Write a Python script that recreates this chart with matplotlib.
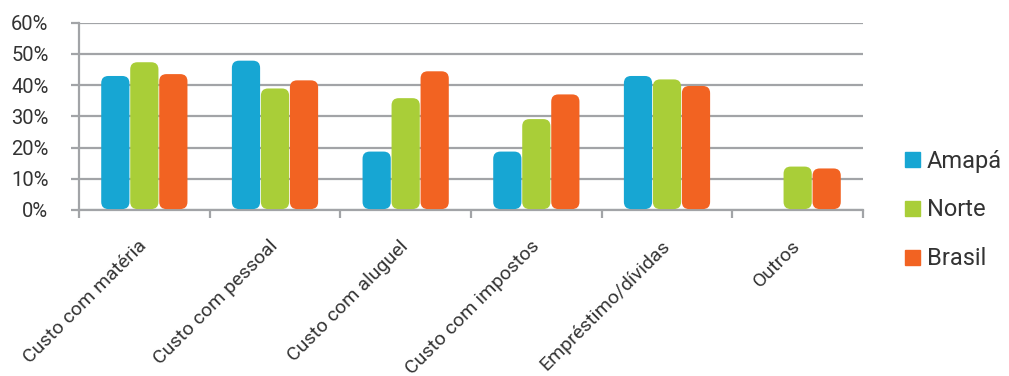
import numpy as np
import matplotlib
matplotlib.use('Agg')
from matplotlib import pyplot as plt
from matplotlib.patches import FancyBboxPatch, Patch
from matplotlib.transforms import ScaledTranslation

# data (percent)
categories = ['Custo com matéria', 'Custo com pessoal', 'Custo com aluguel',
              'Custo com impostos', 'Empréstimo/dívidas', 'Outros']
series_names = ['Amapá', 'Norte', 'Brasil']
amapa = [42.9, 47.8, 18.7, 18.7, 42.9, 0]
norte = [47.3, 38.9, 35.8, 29.1, 41.8, 13.9]
brasil = [43.5, 41.5, 44.4, 37.0, 39.7, 13.3]
colors = ['#17A6D3', '#A9CE38', '#F26322']

plt.rcParams['font.family'] = ['Roboto', 'DejaVu Sans']
text_color = '#333333'
grid_color = '#A2A4A7'

fig = plt.figure(figsize=(10.09, 3.76), dpi=100)
ax = fig.add_axes([0.0783, 0.4415, 0.777, 0.4985])

x = np.arange(len(categories))
width = 0.222
ax.set_xlim(-0.5, len(categories) - 0.5)
ax.set_ylim(0, 60)

# rounded bars: draw normal bars, then swap them for rounded boxes
radius_x = 0.055
aspect = 2.3 / radius_x
for i, (vals, c) in enumerate(zip([amapa, norte, brasil], colors)):
    bars = ax.bar(x + (i - 1) * width, vals, width, color=c)
    for b in bars:
        if b.get_height() > 0:
            box = FancyBboxPatch((b.get_x() + 0.003, b.get_y() + 0.3),
                                 b.get_width() - 0.006, b.get_height() - 0.3,
                                 boxstyle='round,pad=0,rounding_size=%f' % radius_x,
                                 mutation_aspect=aspect, fc=c, ec='none', zorder=3)
            ax.add_patch(box)
        b.remove()

ax.set_yticks(np.arange(0, 61, 10))
ax.set_yticklabels(['%d%%' % v for v in range(0, 61, 10)])
ax.yaxis.grid(True, color=grid_color, lw=1.6)
ax.set_axisbelow(True)

ax.set_xticks(x)
ax.set_xticklabels(categories, rotation=45, ha='right', va='center',
                   rotation_mode='anchor')
ax.set_xticks(np.arange(-0.5, len(categories)), minor=True)
# shift the rotated labels a little right, like the original
for lab in ax.get_xticklabels():
    lab.set_transform(lab.get_transform() + ScaledTranslation(0.12, 0, fig.dpi_scale_trans))

for s in ['top', 'right']:
    ax.spines[s].set_visible(False)
for s in ['left', 'bottom']:
    ax.spines[s].set_color(grid_color)
    ax.spines[s].set_linewidth(1.6)

ax.tick_params(axis='y', length=6, width=1.6, color=grid_color, pad=16,
               labelsize=14.5, labelcolor=text_color)
ax.tick_params(axis='x', which='major', length=0, pad=24,
               labelsize=14, labelcolor=text_color)
ax.tick_params(axis='x', which='minor', length=6, width=1.6, color=grid_color)

handles = [Patch(color=c) for c in colors]
fig.legend(handles, series_names, loc='center left',
           bbox_to_anchor=(0.897, 0.4415), frameon=False, fontsize=17,
           handlelength=0.62, handleheight=0.62, handletextpad=0.3,
           labelspacing=1.1, labelcolor=text_color, borderpad=0,
           borderaxespad=0)

fig.savefig('out.png', dpi=100)
